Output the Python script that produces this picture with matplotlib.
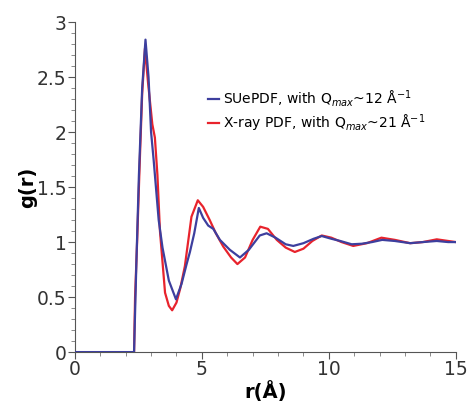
import matplotlib.pyplot as plt
from matplotlib.ticker import MultipleLocator

# SUePDF (blue)
r_blue = [0, 2.33, 2.42, 2.52, 2.65, 2.78, 2.9, 3.0, 3.1, 3.3, 3.45, 3.7, 3.98,
          4.2, 4.4, 4.53, 4.7, 4.88, 5.05, 5.25, 5.45, 5.71, 6.1, 6.5, 6.85,
          7.28, 7.55, 7.9, 8.3, 8.6, 9.0, 9.4, 9.72, 10.1, 10.45, 10.9, 11.3,
          11.7, 12.1, 12.6, 13.2, 13.7, 14.25, 14.7, 15.0]
g_blue = [0, 0, 0.8, 1.6, 2.4, 2.84, 2.5, 2.0, 1.75, 1.2, 0.95, 0.65, 0.48,
          0.62, 0.8, 0.91, 1.08, 1.31, 1.22, 1.15, 1.12, 1.02, 0.93, 0.86, 0.93,
          1.06, 1.08, 1.04, 0.98, 0.965, 0.99, 1.03, 1.055, 1.03, 1.01, 0.98, 0.985,
          1.0, 1.02, 1.01, 0.99, 1.0, 1.01, 1.0, 1.0]

# X-ray PDF (red)
r_red = [0, 2.33, 2.37, 2.45, 2.55, 2.65, 2.76, 2.88, 3.05, 3.15, 3.25, 3.35,
         3.55, 3.7, 3.83, 4.0, 4.15, 4.33, 4.59, 4.84, 5.05, 5.31, 5.55, 5.84,
         6.15, 6.4, 6.7, 7.0, 7.3, 7.6, 7.95, 8.3, 8.66, 9.0, 9.35, 9.72, 10.1,
         10.5, 10.96, 11.5, 12.07, 12.6, 13.2, 13.7, 14.25, 14.7, 15.0]
g_red = [0, 0, 0.5, 1.0, 1.7, 2.35, 2.76, 2.45, 2.07, 1.95, 1.61, 1.1,
         0.54, 0.42, 0.38, 0.45, 0.58, 0.78, 1.23, 1.38, 1.32, 1.2, 1.08, 0.96,
         0.86, 0.8, 0.86, 1.02, 1.14, 1.12, 1.02, 0.95, 0.91, 0.94, 1.01, 1.06, 1.04,
         1.0, 0.965, 0.99, 1.04, 1.02, 0.99, 1.0, 1.025, 1.01, 1.0]

fig, ax = plt.subplots(figsize=(4.68, 4.08), dpi=100)
fig.subplots_adjust(left=0.16, right=0.974, bottom=0.137, top=0.946)

ax.plot(r_blue, g_blue, color='#3d3f9e', lw=1.6, zorder=3,
        label=r'SUePDF, with Q$_{max}$~12 Å$^{-1}$')
ax.plot(r_red, g_red, color='#e8232c', lw=1.6, zorder=2,
        label=r'X-ray PDF, with Q$_{max}$~21 Å$^{-1}$')

ax.set_xlim(0, 15)
ax.set_ylim(0, 3)
ax.xaxis.set_major_locator(MultipleLocator(5))
ax.xaxis.set_minor_locator(MultipleLocator(1))
ax.yaxis.set_major_locator(MultipleLocator(0.5))
ax.yaxis.set_minor_locator(MultipleLocator(0.1))
ax.set_yticks([0, 0.5, 1, 1.5, 2, 2.5, 3], ['0', '0.5', '1', '1.5', '2', '2.5', '3'])

for s in ['top', 'right']:
    ax.spines[s].set_visible(False)
for s in ['left', 'bottom']:
    ax.spines[s].set_color('#555555')
    ax.spines[s].set_linewidth(0.8)

ax.tick_params(which='major', length=5, width=0.8, color='#555555',
               labelsize=13.5, labelcolor='#333333', pad=1)
ax.tick_params(which='minor', length=3, width=0.6, color='#777777')

ax.set_xlabel('r(Å)', fontsize=14, fontweight='bold', labelpad=1)
ax.set_ylabel('g(r)', fontsize=14, fontweight='bold', labelpad=0)

leg = ax.legend(loc='upper left', bbox_to_anchor=(0.33, 0.82), frameon=False,
                fontsize=10, handlelength=0.8, handletextpad=0.3,
                labelspacing=0.25, borderpad=0)

fig.savefig('out.png', dpi=100)
